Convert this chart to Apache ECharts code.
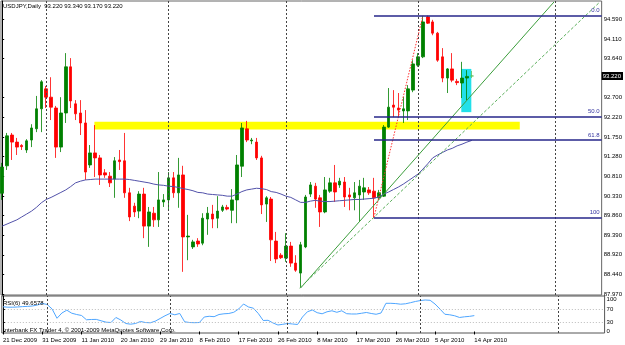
<!DOCTYPE html>
<html>
<head>
<meta charset="utf-8">
<script src="https://cdn.jsdelivr.net/npm/echarts@6/dist/echarts.min.js"></script>
<style>
html, body { margin: 0; padding: 0; background: #fff; }
#chart { width: 625px; height: 345px; }
</style>
</head>
<body>
<div id="chart"></div>
<script>
// USDJPY daily bars, 21 Dec 2009 .. 14 Apr 2010 (index 0..96)
var opens = [90.40,91.06,91.80,91.63,91.55,91.44,91.68,91.95,92.43,92.91,
  92.71,92.45,91.51,92.33,93.44,92.55,92.33,92.09,91.08,91.37,
  91.25,90.89,90.81,90.74,91.20,91.18,90.41,90.09,89.97,90.38,
  89.61,89.92,89.76,90.19,90.24,90.77,90.41,90.84,89.35,89.11,
  89.25,89.20,89.78,89.90,89.80,89.99,90.06,89.99,90.24,91.05,
  91.95,91.66,91.63,91.25,90.14,90.26,89.25,88.91,88.84,89.13,
  88.72,88.48,89.11,90.38,90.57,90.29,89.95,90.45,90.65,90.60,
  90.67,90.36,90.29,90.36,90.43,90.48,90.45,90.29,90.33,91.99,
  92.52,92.45,92.38,92.38,92.88,93.48,93.68,94.64,94.52,94.25,
  93.68,93.17,93.39,93.09,93.05,93.17,93.22];
var closes = [91.03,91.78,91.63,91.51,91.52,91.66,91.97,92.43,93.08,92.71,
  92.47,91.51,92.33,93.44,92.62,92.31,92.09,90.91,91.37,91.25,
  90.84,90.84,90.65,91.18,91.16,90.41,89.83,89.95,90.38,89.61,
  89.95,89.76,90.24,90.24,90.77,90.41,90.84,89.35,89.37,89.23,
  89.18,89.80,89.92,89.78,89.97,90.07,90.02,90.24,91.08,91.97,
  91.68,91.68,91.25,90.12,90.29,89.28,88.82,88.85,89.13,88.72,
  88.55,89.16,90.31,90.60,90.26,89.95,90.48,90.65,90.43,90.69,
  90.31,90.31,90.41,90.57,90.53,90.41,90.29,90.41,91.99,92.47,
  92.47,92.40,92.43,92.91,93.51,93.68,94.52,94.49,94.25,93.60,
  93.17,93.39,93.12,93.06,93.17,93.21,93.22];
var highs = [91.13,91.85,91.85,91.73,91.58,91.70,92.06,92.74,93.12,92.98,
  93.19,92.50,92.71,93.77,93.65,92.64,92.64,92.40,91.56,92.04,
  91.32,90.98,90.91,91.27,91.44,91.85,90.53,90.17,90.45,90.53,
  90.07,90.07,90.91,90.38,90.91,90.91,91.25,91.06,89.88,89.28,
  89.32,89.92,90.07,90.12,90.33,90.12,90.12,90.50,91.32,92.09,
  92.14,91.73,91.73,91.30,90.33,90.31,89.47,88.96,89.44,89.23,
  88.91,89.23,90.36,90.67,90.65,90.36,90.79,90.77,91.08,90.77,
  90.79,90.53,90.67,90.72,90.77,90.55,90.77,90.48,92.04,92.93,
  92.88,92.81,92.72,93.00,93.60,93.77,94.66,94.67,94.57,94.28,
  93.89,93.41,93.77,93.15,93.56,93.36,93.34];
var lows = [90.24,90.96,91.20,91.32,91.44,91.37,91.51,91.87,91.87,92.45,
  92.16,91.25,91.39,92.09,92.45,92.16,91.80,90.72,91.01,90.79,
  90.60,90.77,90.55,90.29,90.96,90.29,89.73,89.83,89.80,89.32,
  89.11,89.59,89.59,90.07,89.99,90.29,90.05,88.51,88.79,89.06,
  89.11,89.15,89.40,89.56,89.56,89.95,89.99,89.68,89.68,90.79,
  91.63,91.58,91.20,89.90,89.71,88.77,88.72,88.82,88.75,88.63,
  88.51,88.12,89.08,90.31,90.05,89.59,89.92,90.41,90.19,90.53,
  90.07,89.99,89.99,89.71,90.24,90.36,89.80,90.24,90.31,91.97,
  92.23,92.23,92.09,92.16,92.83,93.44,93.65,94.47,94.20,93.56,
  93.07,92.81,93.07,93.00,92.69,92.64,93.17];

// moving average as drawn
var maValues = [89.61,89.66,89.71,89.76,89.83,89.90,89.97,90.06,90.17,90.25,
  90.30,90.36,90.42,90.48,90.56,90.65,90.69,90.72,90.73,90.74,
  90.74,90.74,90.74,90.74,90.74,90.74,90.73,90.71,90.69,90.67,
  90.65,90.62,90.60,90.59,90.57,90.56,90.54,90.51,90.49,90.46,
  90.42,90.41,90.38,90.37,90.36,90.35,90.33,90.33,90.38,90.44,
  90.48,90.50,90.52,90.51,90.49,90.44,90.42,90.38,90.33,90.30,
  90.24,90.18,90.18,90.21,90.23,90.21,90.20,90.20,90.21,90.22,
  90.23,90.24,90.25,90.25,90.26,90.27,90.28,90.31,90.38,90.43,
  90.49,90.55,90.62,90.70,90.78,90.86,90.98,91.11,91.25,91.32,
  91.38,91.44,91.48,91.54,91.58,91.63,91.67];

// RSI(6)
var rsiValues = [77.2,75.9,75.9,76.6,77.8,78.4,79.7,82.8,87.5,84.4,
  70.3,41.3,57.8,66.6,57.2,53.1,50.0,36.6,37.5,37.8,
  33.4,29.1,28.1,43.8,35.9,25.0,22.8,25.0,31.3,28.1,
  27.2,32.2,40.6,49.1,56.3,52.2,56.3,30.3,28.1,27.5,
  28.1,45.3,47.5,46.3,53.1,55.3,56.3,60.0,70.3,85.9,
  76.6,72.8,56.3,34.4,35.0,26.6,20.3,22.5,25.0,23.4,
  21.9,45.3,61.6,67.2,58.8,55.3,61.6,64.7,60.0,64.7,
  55.6,54.7,54.7,56.9,59.4,56.3,53.8,57.8,88.1,88.1,
  87.2,85.3,86.6,90.0,93.8,96.6,98.4,97.5,85.9,70.3,
  53.8,52.2,49.1,43.8,45.9,47.2,49.6578];

var priceTicks = [87.97,88.44,88.92,89.39,89.86,90.33,90.81,91.28,91.75,92.22,92.70,93.64,94.11,94.59];
var rsiTicks = [0, 30, 70, 100];
var dateTicks = [0, 8, 16, 24, 32, 40, 48, 56, 64, 72, 80, 88, 96];
var dateLabels = ['21 Dec 2009','31 Dec 2009','11 Jan 2010','20 Jan 2010','29 Jan 2010','8 Feb 2010',
  '17 Feb 2010','26 Feb 2010','8 Mar 2010','17 Mar 2010','26 Mar 2010','5 Apr 2010','14 Apr 2010'];
var monthStarts = [9, 34, 58, 85, 113];

// drawn objects
var fiboNames = ['0.0', '50.0', '61.8', '100'];
var fiboLevels = [94.67, 92.25, 91.68, 89.82];
var fiboStart = 76;
var trendSolid = [[61, 88.12], [112.8, 95.00]];
var trendDashed = [[60.8, 88.12], [122.0, 94.98]];
var fiboDiagonal = [[76, 89.82], [86, 94.67]];
var yellowZone = [[18.85, 92.12], [105.8, 91.93]];
var cyanZone = [[93.85, 93.39], [95.9, 92.35]];

var xMin = -0.24, xMax = 122.54;
var font = 'Liberation Sans, Arial, sans-serif';
var last = opens.length - 1;

var candleData = opens.map(function (o, i) { return [i, o, closes[i], lows[i], highs[i]]; });
var maData = maValues.map(function (v, i) { return [i, v]; });
var rsiData = rsiValues.map(function (v, i) { return [i, v]; });

var monthLines = monthStarts.map(function (m) { return { xAxis: m }; });

var fiboLines = fiboLevels.map(function (lv, k) {
  return [
    { coord: [fiboStart, lv], name: fiboNames[k] },
    { coord: [xMax, lv] }
  ];
});

var chart = echarts.init(document.getElementById('chart'), null, { renderer: 'canvas' });

var option = {
  animation: false,
  backgroundColor: '#fff',
  title: [
    { text: 'USDJPY,Daily  ' + [opens[last], highs[last], lows[last], closes[last]].map(function (v) { return v.toFixed(3); }).join(' '),
      left: 3, top: 3, padding: 0,
      textStyle: { fontSize: 6, fontWeight: 'normal', color: '#000', fontFamily: font } },
    { text: 'RSI(6) ' + rsiValues[last].toFixed(4),
      left: 3, top: 300, padding: 0,
      textStyle: { fontSize: 6, fontWeight: 'normal', color: '#000', fontFamily: font } },
    { text: 'Interbank FX Trader 4, \u00a9 2001-2009 MetaQuotes Software Corp.',
      left: 3, top: 327, padding: 0,
      textStyle: { fontSize: 6, fontWeight: 'normal', color: '#000', fontFamily: font } }
  ],
  grid: [
    { left: 1, right: 20.4, top: 1, height: 294, show: true, borderColor: '#666', borderWidth: 1 },
    { left: 1, right: 20.4, top: 296, height: 37, show: true, borderColor: '#555', borderWidth: 1 }
  ],
  xAxis: [
    { type: 'value', gridIndex: 0, min: xMin, max: xMax, show: false },
    { type: 'value', gridIndex: 1, min: xMin, max: xMax,
      axisLine: { show: false },
      axisTick: { show: true, length: 3, customValues: dateTicks, lineStyle: { color: '#000' } },
      axisLabel: { customValues: dateTicks, align: 'left', margin: 4, fontSize: 6, color: '#000', fontFamily: font,
        formatter: function (v) { return dateLabels[dateTicks.indexOf(Math.round(v))] || ''; } },
      splitLine: { show: false } }
  ],
  yAxis: [
    { type: 'value', gridIndex: 0, position: 'right', min: 87.953, max: 95.023,
      axisLine: { show: true, lineStyle: { color: '#000' } },
      axisTick: { show: true, length: 2, customValues: priceTicks, lineStyle: { color: '#000' } },
      axisLabel: { customValues: priceTicks, margin: 2, fontSize: 6, color: '#000', fontFamily: font,
        formatter: function (v) { return v.toFixed(3); } },
      splitLine: { show: false } },
    { type: 'value', gridIndex: 1, position: 'right', min: -4.7, max: 110.9,
      axisLine: { show: true, lineStyle: { color: '#000' } },
      axisTick: { show: true, length: 2, customValues: rsiTicks, lineStyle: { color: '#000' } },
      axisLabel: { customValues: rsiTicks, margin: 2, fontSize: 6, color: '#000', fontFamily: font },
      splitLine: { show: false } }
  ],
  series: [
    {
      name: 'zones', type: 'line', xAxisIndex: 0, yAxisIndex: 0, data: [], z: 1, silent: true,
      markArea: {
        silent: true,
        data: [
          [{ coord: yellowZone[0], itemStyle: { color: '#ffff00' } }, { coord: yellowZone[1] }],
          [{ coord: cyanZone[0], itemStyle: { color: '#22e0ea' } }, { coord: cyanZone[1] }]
        ]
      },
      markLine: {
        silent: true, symbol: ['none', 'none'], label: { show: false },
        lineStyle: { color: '#444', type: [2, 2], width: 1 },
        data: monthLines
      }
    },
    {
      name: 'USDJPY', type: 'candlestick', xAxisIndex: 0, yAxisIndex: 0, z: 3,
      encode: { x: 0, y: [1, 2, 3, 4] },
      barWidth: 3,
      data: candleData,
      itemStyle: {
        color: '#008000', color0: '#ff0000',
        borderColor: '#008000', borderColor0: '#ff0000', borderColorDoji: '#5cbf5c',
        borderWidth: 0.8
      }
    },
    {
      name: 'MA', type: 'line', xAxisIndex: 0, yAxisIndex: 0, z: 4,
      data: maData, showSymbol: false, symbol: 'none',
      lineStyle: { color: '#5252aa', width: 1 }
    },
    {
      name: 'objects', type: 'line', xAxisIndex: 0, yAxisIndex: 0, data: [], z: 5, silent: true,
      markLine: {
        silent: true, symbol: ['none', 'none'],
        label: { show: false },
        data: [
          [{ coord: trendSolid[0], lineStyle: { color: '#3c9e3c', width: 1, type: 'solid' } }, { coord: trendSolid[1] }],
          [{ coord: trendDashed[0], lineStyle: { color: '#5aae5a', width: 1, type: [3, 2] } }, { coord: trendDashed[1] }],
          [{ coord: fiboDiagonal[0], lineStyle: { color: '#ff3030', width: 1, type: [1.5, 1.5] } }, { coord: fiboDiagonal[1] }]
        ].concat(fiboLines.map(function (pair) {
          pair[0].lineStyle = { color: '#26268a', width: 1.5, type: 'solid' };
          pair[0].label = { show: true, position: 'insideEndTop', formatter: '{b}', distance: 2,
            color: '#3535a0', fontSize: 6, fontFamily: font };
          return pair;
        })).concat([
          { yAxis: closes[last], lineStyle: { color: 'rgba(0,0,0,0)', width: 0 },
            label: { show: true, position: 'end', distance: 0, formatter: closes[last].toFixed(3),
              backgroundColor: '#000', color: '#fff', padding: [1, 2, 1, 1], fontSize: 6, fontFamily: font } }
        ])
      }
    },
    {
      name: 'RSI', type: 'line', xAxisIndex: 1, yAxisIndex: 1, z: 4,
      data: rsiData, showSymbol: false, symbol: 'none',
      lineStyle: { color: '#4ea6ff', width: 1 },
      markLine: {
        silent: true, symbol: ['none', 'none'], label: { show: false },
        data: [
          { yAxis: 70, lineStyle: { color: '#bbbbbb', type: [1, 2], width: 1 } },
          { yAxis: 30, lineStyle: { color: '#bbbbbb', type: [1, 2], width: 1 } }
        ].concat(monthStarts.map(function (m) {
          return { xAxis: m, lineStyle: { color: '#444', type: [2, 2], width: 1 } };
        }))
      }
    }
  ]
};

chart.setOption(option);
</script>
</body>
</html>
